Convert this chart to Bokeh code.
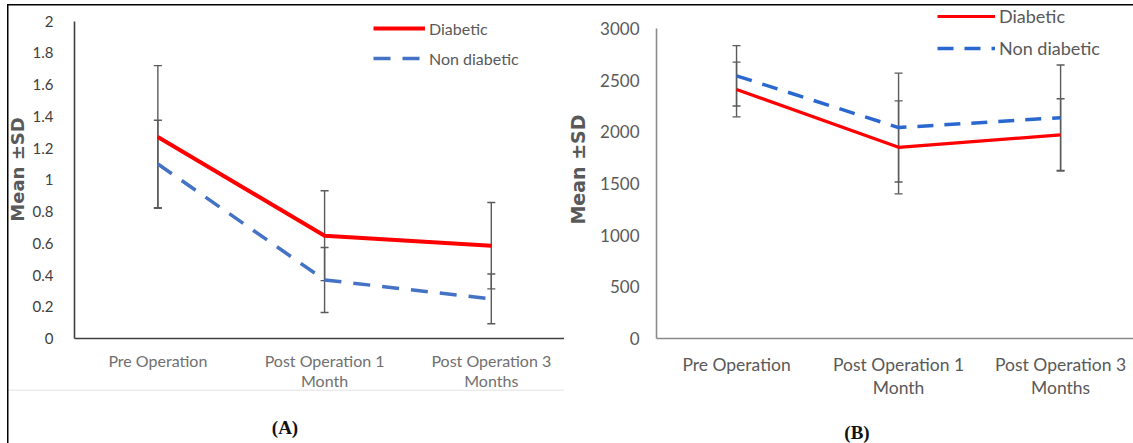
from bokeh.plotting import figure
from bokeh.models import (ColumnDataSource, Whisker, TeeHead, Legend, LegendItem,
                          FixedTicker, Range1d, Div)
from bokeh.layouts import row, column
from bokeh.embed import file_html
from bokeh.resources import INLINE

# ---------------- data ----------------
categories = ["Pre Operation", "Post Operation 1\nMonth", "Post Operation 3\nMonths"]
series_names = ["Diabetic", "Non diabetic"]
y_title = "Mean \u00b1SD"
panel_captions = ["(A)", "(B)"]

a_diabetic_mean = [1.27, 0.648, 0.585]
a_diabetic_sd = [0.45, 0.283, 0.272]
a_nondiabetic_mean = [1.10, 0.369, 0.25]
a_nondiabetic_sd = [0.276, 0.205, 0.157]
a_y_ticks = [0, 0.2, 0.4, 0.6, 0.8, 1.0, 1.2, 1.4, 1.6, 1.8, 2.0]
a_y_labels = ["0", "0.2", "0.4", "0.6", "0.8", "1", "1.2", "1.4", "1.6", "1.8", "2"]

b_diabetic_mean = [2410, 1850, 1970]
b_diabetic_sd = [265, 450, 350]
b_nondiabetic_mean = [2542, 2041, 2137]
b_nondiabetic_sd = [292, 527, 510]
b_y_ticks = [0, 500, 1000, 1500, 2000, 2500, 3000]
b_y_labels = ["0", "500", "1000", "1500", "2000", "2500", "3000"]

FONT = "Lato"
FIG_H = 405


def make_panel(width, frame, x_range, y_top, y_end, ticks, tick_labels, d_mean, d_sd, n_mean, n_sd,
               axis_color, ytick_color, xtick_color, ytick_px, xtick_px, title_px, legend_px,
               blue, red_w, blue_w, dash, legend_pos, glyph_w,
               title_standoff, ytick_standoff, xtick_standoff, shadow):
    left, right, top, bottom = frame
    p = figure(width=width, height=FIG_H, output_backend="svg", toolbar_location=None,
               x_range=Range1d(*x_range), y_range=Range1d(0, y_end),
               min_border_left=left, min_border_right=right,
               min_border_top=top, min_border_bottom=bottom)
    p.grid.visible = False
    p.outline_line_color = None
    p.background_fill_color = None
    p.border_fill_color = None
    p.styles = {"box-shadow": shadow}

    xs = list(range(len(categories)))
    src_d = ColumnDataSource(dict(x=xs, y=d_mean,
                                  lo=[m - s for m, s in zip(d_mean, d_sd)],
                                  hi=[m + s for m, s in zip(d_mean, d_sd)]))
    src_n = ColumnDataSource(dict(x=xs, y=n_mean,
                                  lo=[m - s for m, s in zip(n_mean, n_sd)],
                                  hi=[m + s for m, s in zip(n_mean, n_sd)]))

    r_d = p.line("x", "y", source=src_d, line_color="#FF0000", line_width=red_w)
    r_n = p.line("x", "y", source=src_n, line_color=blue, line_width=blue_w,
                 line_dash=dash)

    for src in (src_d, src_n):
        w = Whisker(source=src, base="x", upper="hi", lower="lo",
                    line_color="#5a5a5a", line_width=1.4,
                    upper_head=TeeHead(size=8, line_color="#5a5a5a", line_width=1.4),
                    lower_head=TeeHead(size=8, line_color="#5a5a5a", line_width=1.4))
        p.add_layout(w)

    # axes
    p.xaxis.ticker = FixedTicker(ticks=xs)
    p.xaxis.major_label_overrides = {i: c for i, c in enumerate(categories)}
    p.yaxis.ticker = FixedTicker(ticks=ticks)
    p.yaxis.major_label_overrides = {t: l for t, l in zip(ticks, tick_labels)}
    p.yaxis.bounds = (0, y_top)
    for ax in (p.xaxis[0], p.yaxis[0]):
        ax.axis_line_color = axis_color
        ax.axis_line_width = 1.6
        ax.major_tick_in = 0
        ax.major_tick_out = 0
        ax.minor_tick_in = 0
        ax.minor_tick_out = 0
        ax.major_label_text_font = FONT
    p.yaxis.major_label_text_font_size = f"{ytick_px}px"
    p.xaxis.major_label_text_font_size = f"{xtick_px}px"
    p.yaxis.major_label_text_color = ytick_color
    p.xaxis.major_label_text_color = xtick_color
    p.xaxis.major_label_standoff = xtick_standoff
    p.xaxis.major_label_text_line_height = 1.1
    p.yaxis.major_label_standoff = ytick_standoff
    p.yaxis.axis_label = y_title
    p.yaxis.axis_label_text_font = "DejaVu Sans"
    p.yaxis.axis_label_text_font_style = "bold"
    p.yaxis.axis_label_text_font_size = f"{title_px}px"
    p.yaxis.axis_label_text_color = "#595959"
    p.yaxis.axis_label_standoff = title_standoff

    legend = Legend(items=[LegendItem(label=series_names[0], renderers=[r_d]),
                           LegendItem(label=series_names[1], renderers=[r_n])],
                    location=legend_pos, orientation="vertical",
                    glyph_width=glyph_w, glyph_height=20, label_height=20,
                    spacing=10, padding=0, margin=0, label_standoff=4,
                    border_line_color=None, background_fill_alpha=0,
                    label_text_font=FONT, label_text_font_size=f"{legend_px}px",
                    label_text_color="#595959")
    p.add_layout(legend)
    return p


LEFT_W = 564

pA = make_panel(LEFT_W, (74, 0, 0, FIG_H - 338), (-0.5, 2.439), 2, 2.1305, a_y_ticks, a_y_labels,
                a_diabetic_mean, a_diabetic_sd, a_nondiabetic_mean, a_nondiabetic_sd,
                "#404040", "#404040", "#707070", 15, 16, 18, 16,
                "#4472C4", 4, 3.5, "17 12", (299, 270), 52,
                2, 21, 12,
                "inset 7px 4px 0 0 #ffffff, inset 8.5px 5.5px 0 0 #000000, "
                "inset 0 -14px 0 0 #ffffff, inset 0 -15.5px 0 0 #ececec")

pB = make_panel(1133 - LEFT_W, (656 - LEFT_W, 0, 0, FIG_H - 341), (-0.494, 2.45), 3000, 3271,
                b_y_ticks, b_y_labels,
                b_diabetic_mean, b_diabetic_sd, b_nondiabetic_mean, b_nondiabetic_sd,
                "#8a8a8a", "#595959", "#595959", 17, 17.5, 19, 18,
                "#2A68D0", 3.2, 3.5, "16 11", (281, 279), 58,
                8, 17, 15,
                "inset 0 4px 0 0 #ffffff, inset 0 5.5px 0 0 #000000")

cap_style = ("position:absolute; transform:translate(-50%,-50%); "
             "font-family:'Liberation Serif'; font-weight:bold; font-size:19px; color:#111;")
caption_html = (
    '<div style="position:relative; width:1133px; height:38px;">'
    f'<span style="{cap_style} left:285px; top:23px;">{panel_captions[0]}</span>'
    f'<span style="{cap_style} left:857px; top:28px;">{panel_captions[1]}</span>'
    '</div>'
)
captions = Div(text=caption_html, width=1133, height=443 - FIG_H, margin=(0, 0, 0, 0),
               styles={"box-shadow": "inset 7px 0 0 0 #ffffff, inset 8.5px 0 0 0 #000000"})

layout = column(row(pA, pB), captions)

open("out.html", "w").write(file_html(layout, INLINE))
